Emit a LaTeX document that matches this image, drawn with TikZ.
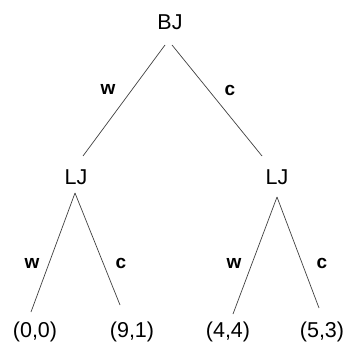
\documentclass[tikz,border=0pt]{standalone}
\usepackage{fontspec}
\setmainfont{Liberation Sans}
\usetikzlibrary{calc}
\begin{document}
\begin{tikzpicture}[x=1pt,y=1pt,
  lab/.style={inner sep=0pt,font=\fontsize{21.5}{25}\selectfont},
  elab/.style={inner sep=0pt,font=\fontsize{19}{22}\selectfont\bfseries},
  edg/.style={draw=black!75,line width=0.7pt}]
\useasboundingbox (0,0) rectangle (345,343);
\node[lab] (BJ) at (170,321) {BJ};
\node[lab] (LJ1) at (76,166) {LJ};
\node[lab] (LJ2) at (277,166) {LJ};
\node[lab] (L1) at (35,11) {(0,0)};
\node[lab] (L2) at (132,11) {(9,1)};
\node[lab] (L3) at (228,11) {(4,4)};
\node[lab] (L4) at (322,11) {(5,3)};
\draw[edg] ($(BJ)+(-5,-23)$) -- ($(LJ1)+(7,21)$);
\draw[edg] ($(BJ)+(2,-23)$) -- ($(LJ2)+(-15,21)$);
\draw[edg] ($(LJ1)+(-1,-16)$) -- ($(L1)+(-4,20)$);
\draw[edg] ($(LJ1)+(-1,-16)$) -- ($(L2)+(-12,27)$);
\draw[edg] ($(LJ2)+(0,-20)$) -- ($(L3)+(5,18)$);
\draw[edg] ($(LJ2)+(0,-20)$) -- ($(L4)+(-3,24)$);
\node[elab] (w1) at (108,254) {w};
\node[elab] (c1) at (230,253) {c};
\node[elab] (w2) at (32,80) {w};
\node[elab] (c2) at (121,80) {c};
\node[elab] (w3) at (234,80) {w};
\node[elab] (c3) at (322,80) {c};
\end{tikzpicture}
\end{document}
